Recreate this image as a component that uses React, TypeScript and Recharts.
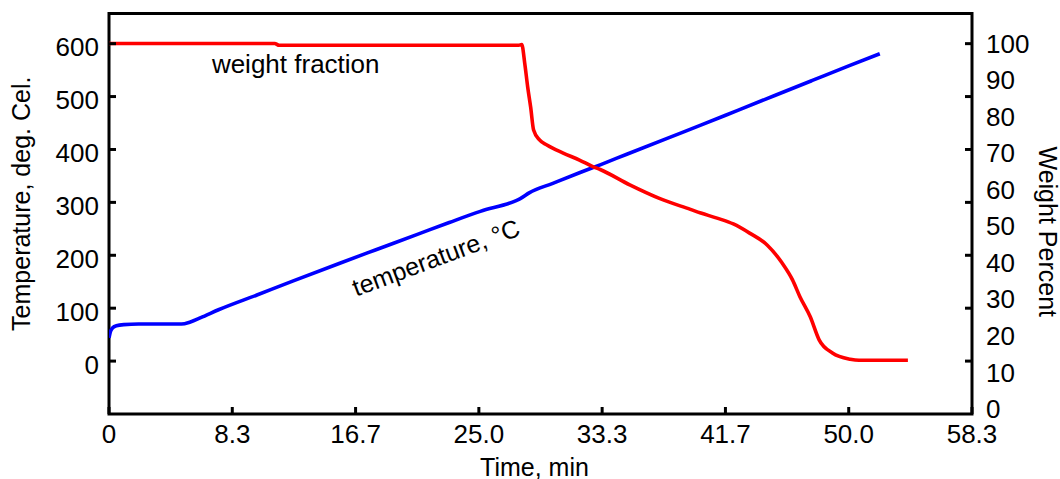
import {
  ComposedChart,
  Line,
  XAxis,
  YAxis,
  ReferenceArea,
  ReferenceDot,
} from "recharts";

// time (min) and furnace temperature (deg C)
const tempTime = [
  0, 0.1, 0.25, 0.5, 1, 2, 3, 4, 4.9, 5.5, 6.2, 7.4, 10, 12.5, 15.6, 18, 20.8,
  23, 25.1, 27.4, 27.8, 28.4, 30, 31.8, 33.2, 35, 37.9, 40, 42.5, 45, 47.5, 50,
  52.1,
];
const tempValues = [
  44, 56, 63, 67, 69, 70, 70, 70, 70, 74, 82, 97, 125, 152, 185, 210, 239, 262,
  283, 302, 307, 318, 336, 356, 371, 391, 423, 446, 474, 502, 530, 558, 581,
];

// time (min) and weight percent
const weightTime = [
  0, 11.2, 11.5, 27.7, 27.9, 28.1, 28.3, 28.5, 28.7, 29.1, 29.6, 30.7, 31.8,
  32.7, 33.2, 35.2, 37.2, 39.3, 40.0, 41.1, 42.2, 43.3, 44.5, 45.5, 46.2, 46.7,
  47.4, 48.0, 48.9, 50.1, 50.7, 52.0, 54.0,
];
const weightValues = [
  100, 100, 99.5, 99.5, 99.7, 94.6, 88.1, 82.6, 76.3, 73.6, 72.2, 70.0, 68.1,
  66.3, 65.5, 61.3, 57.6, 54.6, 53.6, 52.2, 50.6, 48.1, 44.8, 39.9, 35.3, 30.7,
  25.2, 18.9, 15.3, 13.6, 13.3, 13.3, 13.3,
];

const timeTicks = [0, 8.333, 16.667, 25, 33.333, 41.667, 50, 58.333];
const tempTicks = [0, 100, 200, 300, 400, 500, 600];
const weightTicks = [0, 10, 20, 30, 40, 50, 60, 70, 80, 90, 100];

const tempData = tempTime.map((t, i) => ({ time: t, temp: tempValues[i] }));
const weightData = weightTime.map((t, i) => ({ time: t, weight: weightValues[i] }));

const FONT = "'Liberation Sans', Arial, Helvetica, sans-serif";
const FS = 26;
const PLOT_W = 863; // 1060 - 109 - 88
const TICK_LEN = 7;
const X_MARGIN = 11;
const L_MARGIN = 10;
const R_MARGIN = 14;

function TimeTick(props: any) {
  const { x, y, payload } = props;
  const v = payload.value as number;
  const axisY = y - X_MARGIN;
  return (
    <g>
      <line x1={x} x2={x} y1={axisY} y2={axisY - TICK_LEN} stroke="#000" strokeWidth={3} />
      <text x={x} y={y} dy="0.71em" textAnchor="middle" fontFamily={FONT} fontSize={FS} fill="#000">
        {v === 0 ? "0" : v.toFixed(1)}
      </text>
    </g>
  );
}

function TempTick(props: any) {
  const { x, y, payload } = props;
  const left = x + L_MARGIN;
  return (
    <g>
      <line x1={left} x2={left + TICK_LEN} y1={y} y2={y} stroke="#000" strokeWidth={3} />
      <line x1={left + PLOT_W - TICK_LEN} x2={left + PLOT_W} y1={y} y2={y} stroke="#000" strokeWidth={3} />
      <text x={x} y={y} dy="0.48em" textAnchor="end" fontFamily={FONT} fontSize={FS} fill="#000">
        {payload.value}
      </text>
    </g>
  );
}

function WeightTick(props: any) {
  const { x, y, payload } = props;
  return (
    <text x={x} y={y} dy="0.355em" textAnchor="start" fontFamily={FONT} fontSize={FS} fill="#000">
      {payload.value}
    </text>
  );
}

const titleStyle = { fontFamily: FONT, fontSize: 25, fill: "#000" };

export default function App() {
  return (
    <>
      <style>{"body{margin:0}"}</style>
      <ComposedChart
        width={1060}
        height={479}
        margin={{ top: 13.5, right: 0, bottom: 0, left: 0 }}
        style={{ fontFamily: FONT }}
      >
        <XAxis
          dataKey="time"
          type="number"
          domain={[0, 58.333]}
          ticks={timeTicks}
          allowDataOverflow
          height={65}
          axisLine={false}
          tickLine={false}
          tickSize={0}
          tickMargin={X_MARGIN}
          tick={<TimeTick />}
          interval={0}
          label={(p: any) => {
            const vb = p.viewBox;
            return (
              <text x={vb.x + vb.width / 2 - 6} y={476} textAnchor="middle" {...titleStyle}>
                Time, min
              </text>
            );
          }}
        />
        <YAxis
          yAxisId="left"
          type="number"
          domain={[-100, 657]}
          ticks={tempTicks}
          allowDataOverflow
          width={109}
          axisLine={false}
          tickLine={false}
          tickSize={0}
          tickMargin={L_MARGIN}
          tick={<TempTick />}
          interval={0}
          label={(p: any) => {
            const vb = p.viewBox;
            const cx = 21.5;
            const cy = vb.y + vb.height / 2 - 10;
            return (
              <text
                x={cx}
                y={cy}
                dy="0.355em"
                textAnchor="middle"
                transform={`rotate(-90 ${cx} ${cy})`}
                {...titleStyle}
              >
                Temperature, deg. Cel.
              </text>
            );
          }}
        />
        <YAxis
          yAxisId="right"
          orientation="right"
          type="number"
          domain={[-1.4, 108.2]}
          ticks={weightTicks}
          allowDataOverflow
          width={88}
          axisLine={false}
          tickLine={false}
          tickSize={0}
          tickMargin={R_MARGIN}
          tick={<WeightTick />}
          interval={0}
          label={(p: any) => {
            const vb = p.viewBox;
            const cx = 1047.5;
            const cy = vb.y + vb.height / 2 + 18;
            return (
              <text
                x={cx}
                y={cy}
                dy="0.355em"
                textAnchor="middle"
                transform={`rotate(90 ${cx} ${cy})`}
                {...titleStyle}
              >
                Weight Percent
              </text>
            );
          }}
        />
        <Line
          yAxisId="left"
          data={tempData}
          dataKey="temp"
          type="monotone"
          stroke="#0000ff"
          strokeWidth={3.6}
          dot={false}
          isAnimationActive={false}
        />
        <Line
          yAxisId="right"
          data={weightData}
          dataKey="weight"
          type="monotone"
          stroke="#ff0000"
          strokeWidth={3.6}
          dot={false}
          isAnimationActive={false}
        />
        <ReferenceArea
          yAxisId="left"
          x1={0}
          x2={58.333}
          y1={-100}
          y2={657}
          fill="none"
          fillOpacity={0}
          stroke="#000"
          strokeWidth={3}
          ifOverflow="visible"
        />
        <ReferenceDot
          yAxisId="left"
          x={12.62}
          y={544}
          r={0}
          fill="none"
          stroke="none"
          label={(p: any) => (
            <text x={p.viewBox.x} y={p.viewBox.y} textAnchor="middle" {...titleStyle} fontSize={26}>
              weight fraction
            </text>
          )}
        />
        <ReferenceDot
          yAxisId="left"
          x={22.3}
          y={180}
          r={0}
          fill="none"
          stroke="none"
          label={(p: any) => {
            const { x, y } = p.viewBox;
            return (
              <text
                x={x}
                y={y}
                textAnchor="middle"
                transform={`rotate(-20.5 ${x} ${y})`}
                {...titleStyle}
              >
                temperature, °C
              </text>
            );
          }}
        />
      </ComposedChart>
    </>
  );
}
